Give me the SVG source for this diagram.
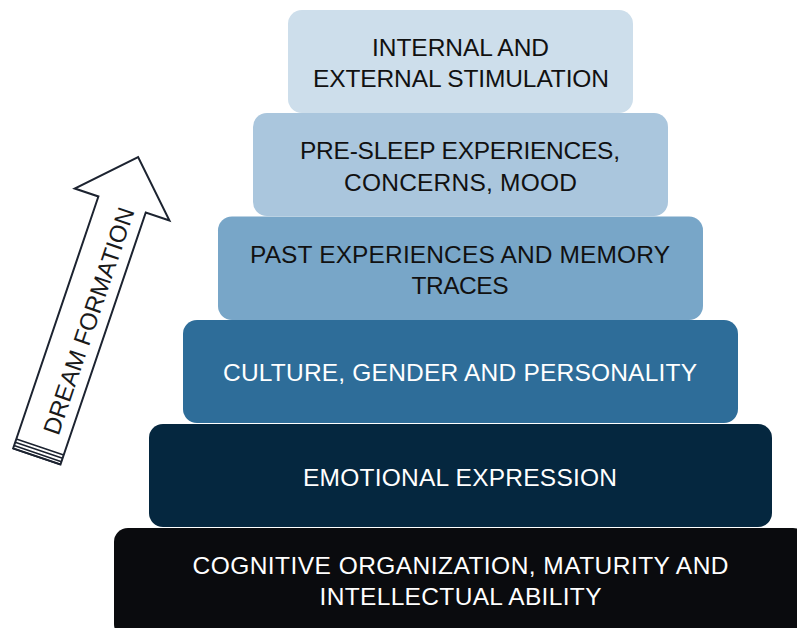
<svg xmlns="http://www.w3.org/2000/svg" width="797" height="628" viewBox="0 0 797 628">
<style>
.t{font-family:"Liberation Sans",Arial,sans-serif;font-size:24.5px;text-anchor:middle}
.dk{fill:#111111}
.lt{fill:#ffffff}
.arrow{fill:#ffffff;stroke:#1c2330;stroke-width:2;stroke-linejoin:miter}
</style>
<rect width="797" height="628" fill="#ffffff"/>
<g id="layer6"><rect x="114" y="528" width="693" height="110" rx="14" fill="#0a0b0e"/>
<text class="t lt" x="460.5" y="574" textLength="536" lengthAdjust="spacing">COGNITIVE ORGANIZATION, MATURITY AND</text>
<text class="t lt" x="460.5" y="605" textLength="282" lengthAdjust="spacing">INTELLECTUAL ABILITY</text></g>
<g id="layer5"><rect x="149" y="424" width="623" height="103" rx="14" fill="#05273f"/>
<text class="t lt" x="460" y="485.5" textLength="314" lengthAdjust="spacing">EMOTIONAL EXPRESSION</text></g>
<g id="layer4"><rect x="183" y="320" width="555" height="103" rx="14" fill="#2e6d99"/>
<text class="t lt" x="460" y="381" textLength="474" lengthAdjust="spacing">CULTURE, GENDER AND PERSONALITY</text></g>
<g id="layer3"><rect x="218" y="216.5" width="485" height="103.5" rx="14" fill="#78a6c8"/>
<text class="t dk" x="460" y="262.5" textLength="420" lengthAdjust="spacing">PAST EXPERIENCES AND MEMORY</text>
<text class="t dk" x="460" y="293.5" textLength="97" lengthAdjust="spacing">TRACES</text></g>
<g id="layer2"><rect x="253" y="113" width="415" height="103" rx="14" fill="#aac6dd"/>
<text class="t dk" x="460" y="159" textLength="320" lengthAdjust="spacing">PRE-SLEEP EXPERIENCES,</text>
<text class="t dk" x="460.5" y="190.5" textLength="233" lengthAdjust="spacing">CONCERNS, MOOD</text></g>
<g id="layer1"><rect x="288" y="10" width="345" height="103" rx="14" fill="#cddeeb"/>
<text class="t dk" x="460.5" y="56" textLength="177" lengthAdjust="spacing">INTERNAL AND</text>
<text class="t dk" x="461" y="87" textLength="296" lengthAdjust="spacing">EXTERNAL STIMULATION</text></g>
<g id="arrow" transform="translate(40,447) rotate(18.7)">
<path class="arrow" d="M-25,10 L-25,-256 L-50,-256 L0,-306 L50,-256 L25,-256 L25,10 Z"/>
<path d="M-25,0 H25 M-25,3.5 H25 M-25,7 H25 M-25,10 H25" stroke="#1c2330" stroke-width="1.6" fill="none"/>
<text transform="rotate(-90)" x="135" y="14" textLength="238" lengthAdjust="spacing" style="font-family:'Liberation Sans',Arial,sans-serif;font-size:24px;text-anchor:middle;fill:#1a1a1a">DREAM FORMATION</text>
</g>
</svg>
